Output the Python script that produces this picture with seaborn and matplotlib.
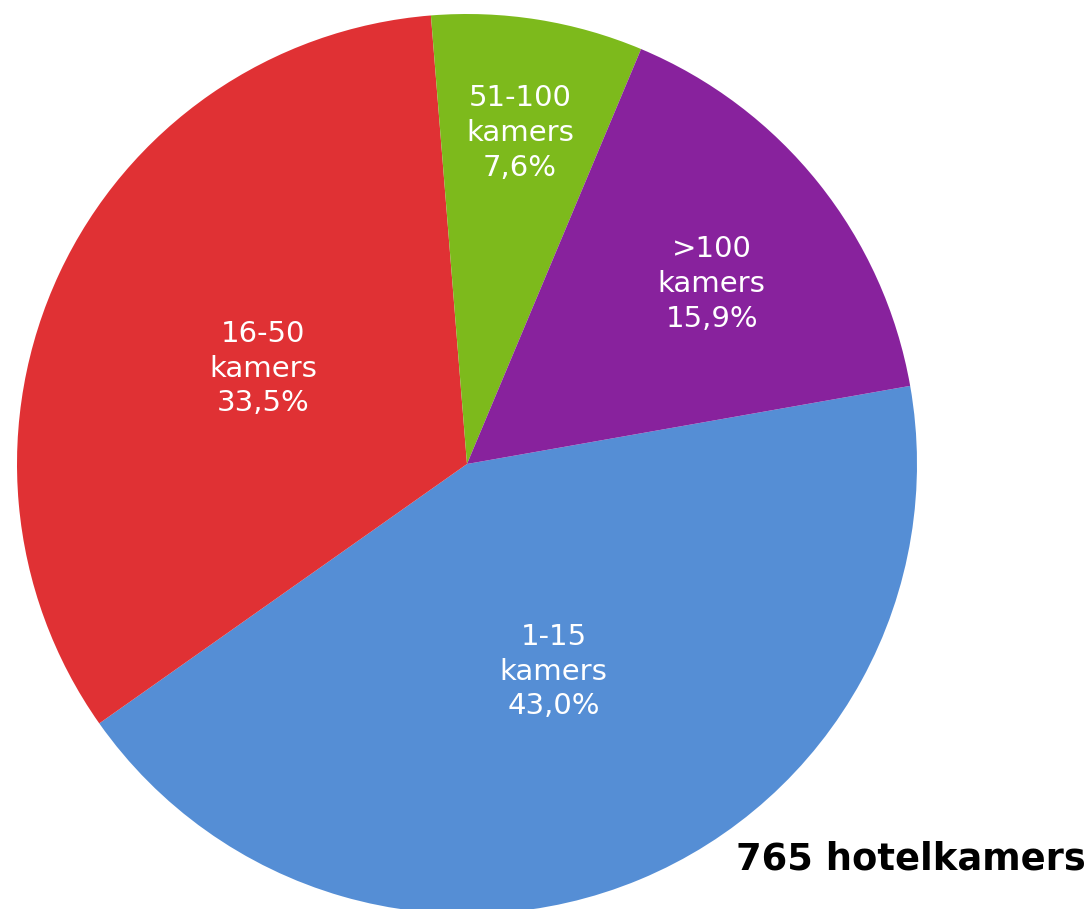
import numpy as np
import matplotlib
matplotlib.use("Agg")
import matplotlib.pyplot as plt
import seaborn as sns

categories = ["1-15", "16-50", "51-100", ">100"]
shares = [43.0, 33.5, 7.6, 15.9]
colors = ["#558ED5", "#E03134", "#7DBA1C", "#88229D"]
# radial position of each label and a small angular nudge (degrees)
label_dist = [0.50, 0.50, 0.745, 0.675]
label_nudge = [0, 0, 0, -2.3]
total_label = "765 hotelkamers"

sns.set_theme(style="white")
plt.rcParams["font.family"] = ["DejaVu Sans"]

fig = plt.figure(figsize=(10.92, 9.09), dpi=100)
ax = fig.add_axes([0, 0, 1, 1])

# pie centre sits at (467, 464) px, radius 450 px
cx, cy, r = 467, 464, 450
wedges, _ = ax.pie(shares, colors=colors, startangle=10, counterclock=False,
                   radius=1, wedgeprops=dict(linewidth=0))

for w, cat, val, d, nd in zip(wedges, categories, shares, label_dist, label_nudge):
    mid = np.deg2rad((w.theta1 + w.theta2) / 2 + nd)
    txt = f"{cat}\nkamers\n{val:.1f}%".replace(".", ",")
    ax.text(d * np.cos(mid), d * np.sin(mid), txt, ha="center", va="center",
            color="white", fontsize=21, linespacing=1.3)

ax.set_xlim(-cx / r, (1092 - cx) / r)
ax.set_ylim(-(909 - cy) / r, cy / r)
ax.set_aspect("equal")
ax.axis("off")

fig.text(0.994, 0.055, total_label, ha="right", va="center",
         fontsize=26.6, fontweight="bold", color="black")

fig.savefig("out.png", dpi=100)
